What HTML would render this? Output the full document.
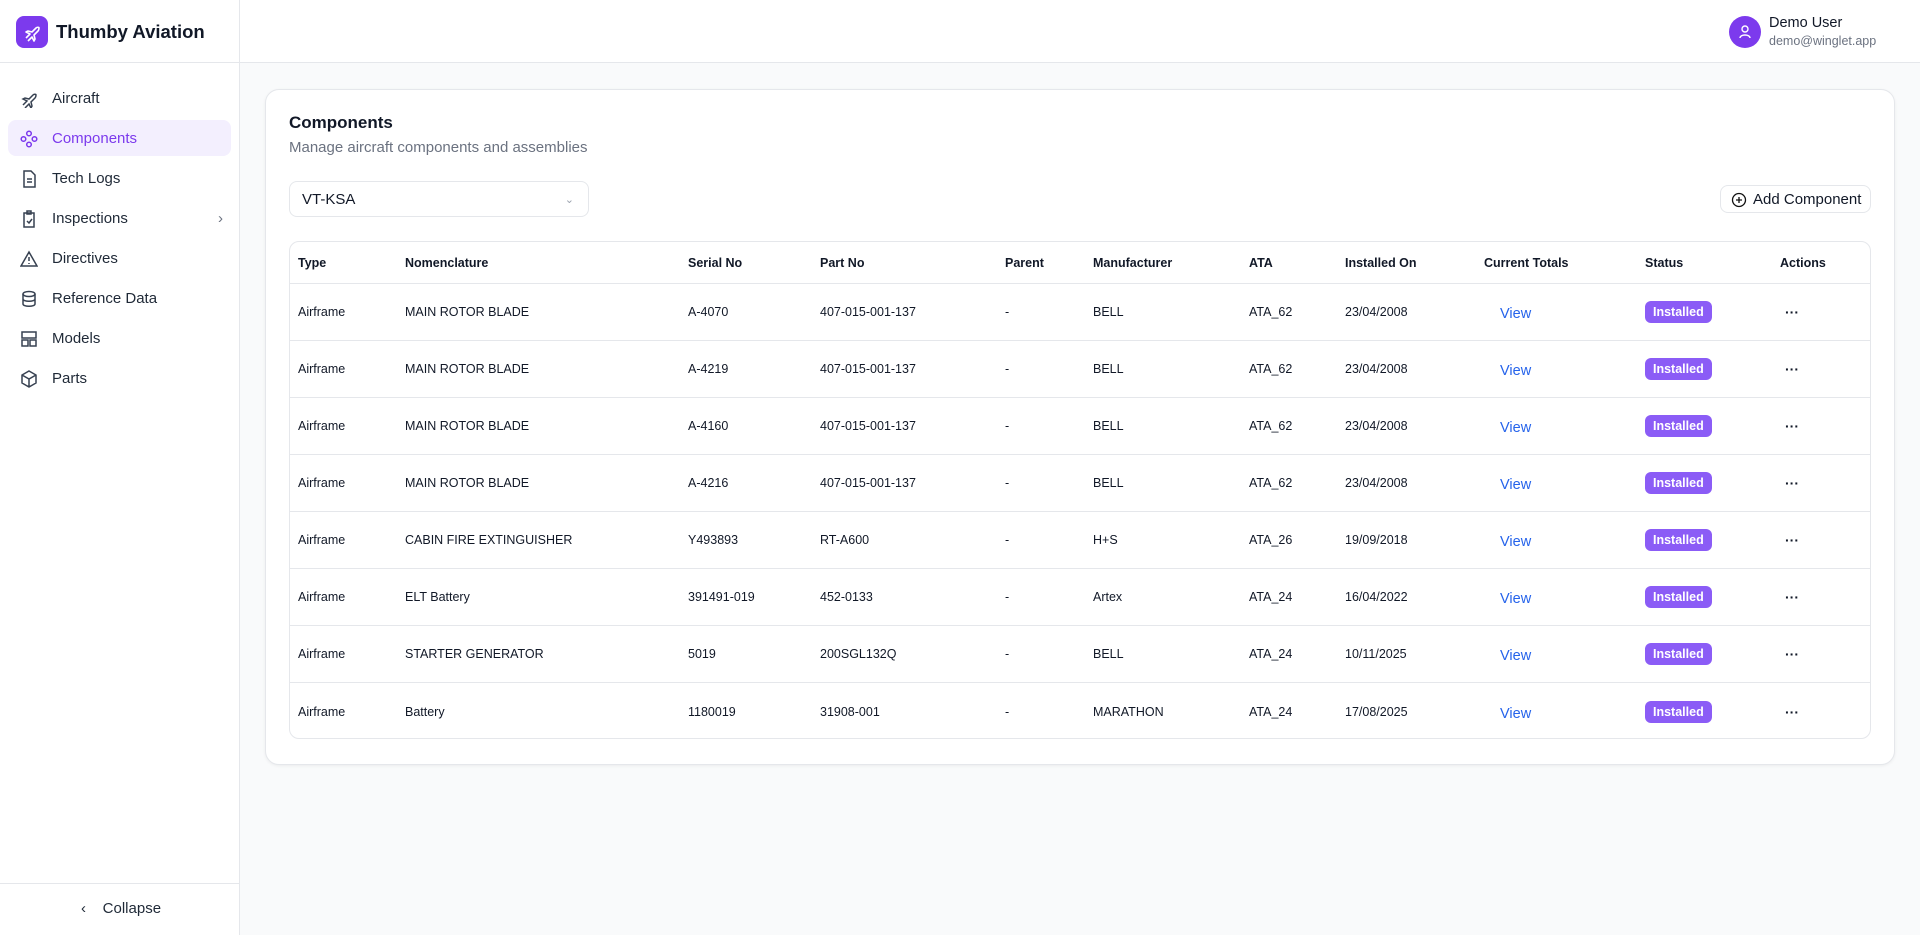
<!DOCTYPE html>
<html><head><meta charset="utf-8"><style>
*{box-sizing:border-box;margin:0;padding:0}
body{width:1920px;height:935px;overflow:hidden;font-family:"Liberation Sans",sans-serif;background:#f9fafb;color:#111827;position:relative}
.side{position:absolute;left:0;top:0;width:240px;height:935px;background:#fff;border-right:1px solid #e5e7eb}
.logo{position:absolute;left:16px;top:16px;width:32px;height:32px;border-radius:8px;background:#7c3aed}
.brand{position:absolute;left:56px;top:21px;font-size:18.5px;font-weight:bold}
.hline{position:absolute;left:0;top:62px;width:1920px;height:1px;background:#e5e7eb}
.nav{position:absolute;left:8px;width:223px;height:36px;border-radius:8px;font-size:15px;color:#1f2937;padding-left:44px;line-height:38px}
.nav.act{background:#f3effe;color:#7c3aed}
.nav svg{position:absolute;left:12px;top:10px}
.top{position:absolute;left:240px;top:0;right:0;height:62px;background:#fff}
.card{position:absolute;left:265px;top:89px;width:1630px;height:676px;background:#fff;border:1px solid #e5e7eb;border-radius:14px;box-shadow:0 1px 3px rgba(0,0,0,.06)}
.tbl{position:absolute;left:289px;top:241px;width:1582px;height:498px;border:1px solid #e5e7eb;border-radius:10px}
.row{position:absolute;left:0;width:100%;border-bottom:1px solid #e5e7eb;font-size:12.5px}
.row span{position:absolute;top:50%;transform:translateY(-50%);white-space:nowrap}
.hd span{font-weight:bold}
.view{color:#2563eb;font-size:14.5px;margin-top:2px}
.badge{background:#8b5cf6;color:#fff;font-weight:bold;font-size:12.5px;padding:4px 8px;border-radius:6px}
</style></head><body>
<div class="top"></div>
<div class="side">
<div class="logo"><svg width="32" height="32" viewBox="0 0 32 32"><path d="M10 22l4-4-4-2 2-1 4 1 4-4c1-1 3-1 3 0s0 2-1 3l-4 4 1 4-1 2-2-4-4 4" fill="none" stroke="#fff" stroke-width="1.6" stroke-linejoin="round"/></svg></div>
<div class="brand">Thumby Aviation</div>
<div class="nav" style="top:80px"><svg width="18" height="18"><path d="M3 15l4-4-4-2 2-1 4 1 4-4c1-1 3-1 3 0s0 2-1 3l-4 4 1 4-1 2-2-4-4 4" fill="none" stroke="#374151" stroke-width="1.5"/></svg>Aircraft</div>
<div class="nav act" style="top:120px"><svg width="18" height="18"><g fill="none" stroke="#7c3aed" stroke-width="1.5"><circle cx="9" cy="3.5" r="2.3"/><circle cx="9" cy="14.5" r="2.3"/><circle cx="3.5" cy="9" r="2.3"/><circle cx="14.5" cy="9" r="2.3"/></g></svg>Components</div>
<div class="nav" style="top:160px"><svg width="18" height="18"><path d="M4 1h7l4 4v12H4z M7 9h5M7 12h5" fill="none" stroke="#374151" stroke-width="1.5"/></svg>Tech Logs</div>
<div class="nav" style="top:200px"><svg width="18" height="18"><path d="M4 3h10v14H4z M7 1h4v3H7z M7 11l2 2 3-4" fill="none" stroke="#374151" stroke-width="1.5"/></svg>Inspections<span style="position:absolute;right:8px;color:#6b7280">›</span></div>
<div class="nav" style="top:240px"><svg width="18" height="18"><path d="M9 2l8 14H1z M9 7v4M9 13v1" fill="none" stroke="#374151" stroke-width="1.5"/></svg>Directives</div>
<div class="nav" style="top:280px"><svg width="18" height="18"><g fill="none" stroke="#374151" stroke-width="1.5"><ellipse cx="9" cy="4" rx="6" ry="2.5"/><path d="M3 4v10c0 3 12 3 12 0V4M3 9c0 3 12 3 12 0"/></g></svg>Reference Data</div>
<div class="nav" style="top:320px"><svg width="18" height="18"><g fill="none" stroke="#374151" stroke-width="1.5"><rect x="2" y="2" width="14" height="6"/><rect x="2" y="10" width="6" height="6"/><rect x="10" y="10" width="6" height="6"/></g></svg>Models</div>
<div class="nav" style="top:360px"><svg width="18" height="18"><path d="M9 1l7 4v8l-7 4-7-4V5z M2 5l7 4 7-4M9 9v8" fill="none" stroke="#374151" stroke-width="1.5"/></svg>Parts</div>
<div style="position:absolute;left:0;top:883px;width:239px;height:1px;background:#e5e7eb"></div>
<div style="position:absolute;left:81px;top:900px;font-size:15px;color:#1f2937">‹&nbsp;&nbsp;&nbsp;&nbsp;Collapse</div>
</div>
<div class="hline"></div>
<div style="position:absolute;left:1729px;top:16px;width:32px;height:32px;border-radius:50%;background:#7c3aed"><svg width="32" height="32"><circle cx="16" cy="13" r="3" fill="none" stroke="#fff" stroke-width="1.4"/><path d="M11 22c0-4 10-4 10 0" fill="none" stroke="#fff" stroke-width="1.4"/></svg></div>
<div style="position:absolute;left:1769px;top:15px;font-size:14.5px">Demo User</div>
<div style="position:absolute;left:1769px;top:34px;font-size:12.5px;color:#6b7280">demo@winglet.app</div>
<div class="card"></div>
<div style="position:absolute;left:289px;top:113px;font-size:17px;font-weight:bold">Components</div>
<div style="position:absolute;left:289px;top:139px;font-size:15px;color:#6b7280">Manage aircraft components and assemblies</div>
<div style="position:absolute;left:289px;top:181px;width:300px;height:36px;border:1px solid #e5e7eb;border-radius:8px;font-size:15px;line-height:36px;padding-left:12px">VT-KSA<span style="position:absolute;right:14px;color:#9ca3af;font-size:11px">&#8964;</span></div>
<div style="position:absolute;left:1720px;top:185px;width:151px;height:28px;border:1px solid #e5e7eb;border-radius:8px;font-size:15px;line-height:28px;padding-left:32px">Add Component<svg style="position:absolute;left:10px;top:6px" width="16" height="16"><circle cx="8" cy="8" r="6.5" fill="none" stroke="#111" stroke-width="1.3"/><path d="M8 5v6M5 8h6" stroke="#111" stroke-width="1.3"/></svg></div>
<div class="tbl">
<div class="row hd" style="top:0;height:42px"><span style="left:8px">Type</span><span style="left:115px">Nomenclature</span><span style="left:398px">Serial No</span><span style="left:530px">Part No</span><span style="left:715px">Parent</span><span style="left:803px">Manufacturer</span><span style="left:959px">ATA</span><span style="left:1055px">Installed On</span><span style="left:1194px">Current Totals</span><span style="left:1355px">Status</span><span style="left:1490px">Actions</span></div>
</div>
<script>
var d=[["MAIN ROTOR BLADE","A-4070","407-015-001-137","BELL","ATA_62","23/04/2008"],["MAIN ROTOR BLADE","A-4219","407-015-001-137","BELL","ATA_62","23/04/2008"],["MAIN ROTOR BLADE","A-4160","407-015-001-137","BELL","ATA_62","23/04/2008"],["MAIN ROTOR BLADE","A-4216","407-015-001-137","BELL","ATA_62","23/04/2008"],["CABIN FIRE EXTINGUISHER","Y493893","RT-A600","H+S","ATA_26","19/09/2018"],["ELT Battery","391491-019","452-0133","Artex","ATA_24","16/04/2022"],["STARTER GENERATOR","5019","200SGL132Q","BELL","ATA_24","10/11/2025"],["Battery","1180019","31908-001","MARATHON","ATA_24","17/08/2025"]];
var t=document.querySelector('.tbl'),h='';
d.forEach(function(r,i){h+='<div class="row" style="top:'+(42+i*57)+'px;height:57px;'+(i==7?'border-bottom:none':'')+'"><span style="left:8px">Airframe</span><span style="left:115px">'+r[0]+'</span><span style="left:398px">'+r[1]+'</span><span style="left:530px">'+r[2]+'</span><span style="left:715px">-</span><span style="left:803px">'+r[3]+'</span><span style="left:959px">'+r[4]+'</span><span style="left:1055px">'+r[5]+'</span><span class="view" style="left:1210px">View</span><span class="badge" style="left:1355px">Installed</span><span style="left:1495px;font-weight:bold;font-size:14px">···</span></div>'});
t.innerHTML+=h;
</script>
</body></html>
